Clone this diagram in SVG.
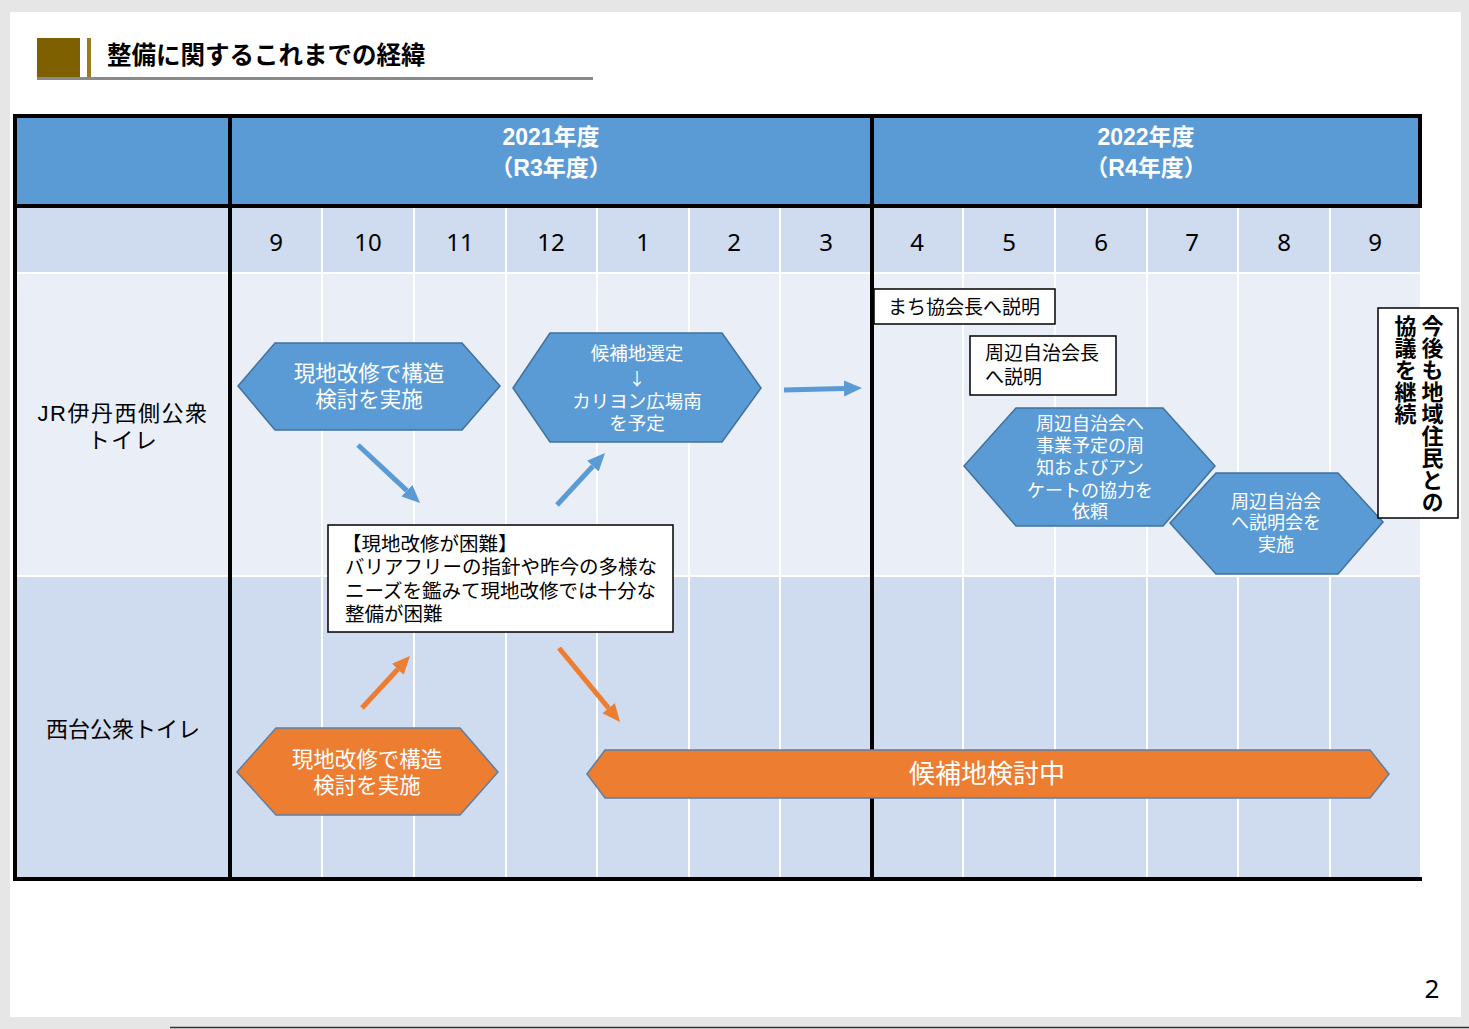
<svg xmlns="http://www.w3.org/2000/svg" width="1469" height="1029" viewBox="0 0 1469 1029">
<defs>
<style>
.jp{font-family:"Liberation Sans","Noto Sans CJK JP",sans-serif;}
.cjk{font-family:"Noto Sans CJK JP",sans-serif;}
.num{font-family:"Noto Sans","Open Sans",sans-serif;}
.wt{fill:#ffffff;}
.bk{fill:#000000;}
.c{text-anchor:middle;dominant-baseline:central;}
.l{text-anchor:start;dominant-baseline:central;}
.grid{stroke:#ffffff;stroke-width:2;}
.frame{stroke:#000000;stroke-width:4;fill:none;}
.hexb{fill:#5B9BD5;stroke:#41719C;stroke-width:1.5;}
.hexo{fill:#ED7D31;stroke:#5B7FA6;stroke-width:1.5;}
.box{fill:#ffffff;stroke:#000000;stroke-width:1.5;}
.arb{stroke:#5B9BD5;stroke-width:5;fill:none;}
.aro{stroke:#ED7D31;stroke-width:5;fill:none;}
</style>
<marker id="mb" markerUnits="userSpaceOnUse" markerWidth="20" markerHeight="18" viewBox="0 -9 20 18" refX="0" refY="0" orient="auto">
<path d="M0,-8 L18,0 L0,8 z" fill="#5B9BD5"/>
</marker>
<marker id="mo" markerUnits="userSpaceOnUse" markerWidth="20" markerHeight="18" viewBox="0 -9 20 18" refX="0" refY="0" orient="auto">
<path d="M0,-8 L18,0 L0,8 z" fill="#ED7D31"/>
</marker>
</defs>

<!-- page -->
<rect x="0" y="0" width="1469" height="1029" fill="#e6e6e6"/>
<rect x="10" y="12" width="1451" height="1005" fill="#ffffff"/>
<line x1="170" y1="1027.5" x2="1469" y2="1027.5" stroke="#333" stroke-width="1.5"/>

<!-- title -->
<g id="title">
<rect x="37" y="38" width="43" height="40" fill="#7F6000"/>
<rect x="87" y="38" width="4" height="40" fill="#9C7A1E"/>
<rect x="37" y="77" width="556" height="3" fill="#8a8a8a"/>
<text class="jp bk l" x="107" y="55" font-size="24.5" font-weight="bold">整備に関するこれまでの経緯</text>
</g>

<!-- table backgrounds -->
<g id="table">
<rect x="15" y="116" width="1405" height="90" fill="#5B9BD5"/>
<rect x="15" y="206" width="1405" height="67" fill="#CFDBEE"/>
<rect x="15" y="273" width="1405" height="303" fill="#E9EEF7"/>
<rect x="15" y="576" width="1405" height="303" fill="#CFDBEE"/>
<g class="grid">
<line x1="15" y1="273" x2="1420" y2="273"/>
<line x1="15" y1="576" x2="1420" y2="576"/>
<line x1="322" y1="206" x2="322" y2="879"/>
<line x1="414" y1="206" x2="414" y2="879"/>
<line x1="506" y1="206" x2="506" y2="879"/>
<line x1="597" y1="206" x2="597" y2="879"/>
<line x1="689" y1="206" x2="689" y2="879"/>
<line x1="780" y1="206" x2="780" y2="879"/>
<line x1="963" y1="206" x2="963" y2="879"/>
<line x1="1055" y1="206" x2="1055" y2="879"/>
<line x1="1147" y1="206" x2="1147" y2="879"/>
<line x1="1238" y1="206" x2="1238" y2="879"/>
<line x1="1330" y1="206" x2="1330" y2="879"/>
</g>
<g class="frame">
<rect x="15" y="116" width="1405" height="90"/>
<line x1="15" y1="206" x2="15" y2="880"/>
<line x1="230" y1="116" x2="230" y2="880"/>
<line x1="872" y1="116" x2="872" y2="880"/>
<line x1="13" y1="879" x2="1422" y2="879"/>
</g>
<text class="jp wt c" font-size="23" font-weight="bold"><tspan x="551" y="137">2021年度</tspan><tspan x="551" y="168">（R3年度）</tspan></text>
<text class="jp wt c" font-size="23" font-weight="bold"><tspan x="1146" y="137">2022年度</tspan><tspan x="1146" y="168">（R4年度）</tspan></text>
<g class="num bk" font-size="24">
<text class="c" x="276" y="241">9</text>
<text class="c" x="368" y="241">10</text>
<text class="c" x="460" y="241">11</text>
<text class="c" x="551" y="241">12</text>
<text class="c" x="643" y="241">1</text>
<text class="c" x="734" y="241">2</text>
<text class="c" x="826" y="241">3</text>
<text class="c" x="917" y="241">4</text>
<text class="c" x="1009" y="241">5</text>
<text class="c" x="1101" y="241">6</text>
<text class="c" x="1192" y="241">7</text>
<text class="c" x="1284" y="241">8</text>
<text class="c" x="1375" y="241">9</text>
</g>
</g>

<!-- row labels -->
<g id="label-jr">
<text class="jp bk c" font-size="22" letter-spacing="1.5"><tspan x="123" y="413">JR伊丹西側公衆</tspan><tspan x="123" y="440">トイレ</tspan></text>
</g>
<g id="label-nishidai">
<text class="jp bk c" x="123" y="729" font-size="22">西台公衆トイレ</text>
</g>

<!-- connectors -->
<g id="connectors">
<path class="arb" d="M358,445 L406.9,490.7" marker-end="url(#mb)"/>
<path class="arb" d="M557,505 L592.8,466.2" marker-end="url(#mb)"/>
<path class="arb" d="M784,390 L844,388.5" marker-end="url(#mb)"/>
<path class="aro" d="M362,708 L397.8,669.2" marker-end="url(#mo)"/>
<path class="aro" d="M559,648 L608.6,708.1" marker-end="url(#mo)"/>
</g>

<!-- JR nodes -->
<g id="hex-jr-kento">
<polygon class="hexb" points="238,386 275,343 462,343 500,386 462,430 275,430"/>
<text class="jp wt c" font-size="21.5"><tspan x="369" y="374">現地改修で構造</tspan><tspan x="369" y="400">検討を実施</tspan></text>
</g>
<g id="hex-jr-kouho">
<polygon class="hexb" points="513,388 550,333 722,333 761,388 722,442 550,442"/>
<text class="jp wt c" font-size="18.5"><tspan x="637" y="353">候補地選定</tspan><tspan class="cjk" x="637" y="377" font-size="17">↓</tspan><tspan x="637" y="401">カリヨン広場南</tspan><tspan x="637" y="423">を予定</tspan></text>
</g>
<g id="box-konnan">
<rect class="box" x="328" y="525" width="345" height="107"/>
<text class="jp bk l" font-size="19.5"><tspan x="342" y="544">【現地改修が困難】</tspan><tspan x="345" y="567">バリアフリーの指針や昨今の多様な</tspan><tspan x="345" y="591">ニーズを鑑みて現地改修では十分な</tspan><tspan x="345" y="614">整備が困難</tspan></text>
</g>
<g id="box-machi">
<rect class="box" x="874" y="289" width="181" height="35"/>
<text class="jp bk l" x="888" y="307" font-size="19">まち協会長へ説明</text>
</g>
<g id="box-jichikaicho">
<rect class="box" x="970" y="336" width="146" height="59"/>
<text class="jp bk l" font-size="19"><tspan x="985" y="353">周辺自治会長</tspan><tspan x="985" y="377">へ説明</tspan></text>
</g>
<g id="hex-shuchi">
<polygon class="hexb" points="964,466 1016,408 1163,408 1215,466 1163,526 1016,526"/>
<text class="jp wt c" font-size="18"><tspan x="1090" y="424">周辺自治会へ</tspan><tspan x="1090" y="446">事業予定の周</tspan><tspan x="1090" y="468">知およびアン</tspan><tspan x="1090" y="491">ケートの協力を</tspan><tspan x="1090" y="512">依頼</tspan></text>
</g>
<g id="hex-setsumeikai">
<polygon class="hexb" points="1170,523 1216,473 1338,473 1383,522 1338,574 1216,574"/>
<text class="jp wt c" font-size="18"><tspan x="1276" y="502">周辺自治会</tspan><tspan x="1276" y="523">へ説明会を</tspan><tspan x="1276" y="545">実施</tspan></text>
</g>
<g id="box-keizoku">
<rect class="box" x="1378" y="308" width="80" height="210"/>
<text class="jp bk" font-size="22" font-weight="bold" style="writing-mode:vertical-rl"><tspan x="1430" y="315">今後も地域住民との</tspan><tspan x="1403" y="315">協議を継続</tspan></text>
</g>

<!-- Nishidai nodes -->
<g id="hex-nishi-kento">
<polygon class="hexo" points="237,772 276,728 460,728 498,772 460,815 276,815"/>
<text class="jp wt c" font-size="21.5"><tspan x="367" y="760">現地改修で構造</tspan><tspan x="367" y="786">検討を実施</tspan></text>
</g>
<g id="hex-nishi-kouho">
<polygon class="hexo" points="587,774 605,750 1370,750 1389,774 1370,798 605,798"/>
<text class="jp wt c" x="987" y="774" font-size="26">候補地検討中</text>
</g>

<!-- page number -->
<text class="num bk c" x="1432" y="988" font-size="26">2</text>
</svg>
